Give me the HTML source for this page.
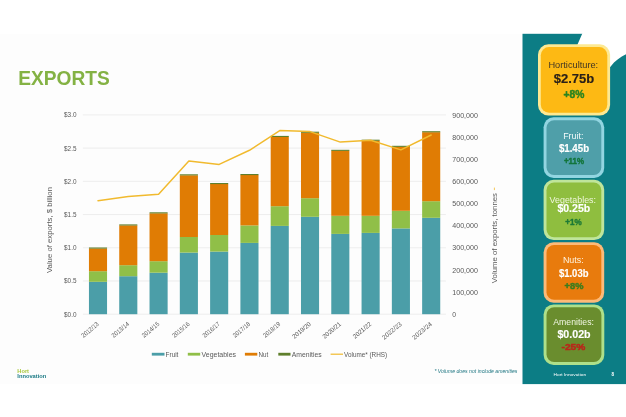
<!DOCTYPE html>
<html><head><meta charset="utf-8"><title>Exports</title>
<style>
html,body{margin:0;padding:0;background:#fff;}
body{width:626px;height:417px;overflow:hidden;font-family:"Liberation Sans",sans-serif;}
svg{display:block;}
svg text{font-family:"Liberation Sans",sans-serif;}
</style></head><body>
<svg width="626" height="417" viewBox="0 0 626 417">
<rect width="626" height="417" fill="#fff"/>
<rect x="0" y="33.8" width="523" height="350.3" fill="#fdfdfd"/>

<text x="18.3" y="85.2" font-size="20.3" font-weight="bold" fill="#84b244" textLength="91.5" lengthAdjust="spacingAndGlyphs">EXPORTS</text>
<line x1="82.9" x2="445.9" y1="114.90" y2="114.90" stroke="#e2e2e2" stroke-width="0.6"/>
<text x="76.5" y="117.30" font-size="6.4" fill="#595959" text-anchor="end">$3.0</text>
<line x1="82.9" x2="445.9" y1="148.12" y2="148.12" stroke="#e2e2e2" stroke-width="0.6"/>
<text x="76.5" y="150.52" font-size="6.4" fill="#595959" text-anchor="end">$2.5</text>
<line x1="82.9" x2="445.9" y1="181.34" y2="181.34" stroke="#e2e2e2" stroke-width="0.6"/>
<text x="76.5" y="183.74" font-size="6.4" fill="#595959" text-anchor="end">$2.0</text>
<line x1="82.9" x2="445.9" y1="214.56" y2="214.56" stroke="#e2e2e2" stroke-width="0.6"/>
<text x="76.5" y="216.96" font-size="6.4" fill="#595959" text-anchor="end">$1.5</text>
<line x1="82.9" x2="445.9" y1="247.78" y2="247.78" stroke="#e2e2e2" stroke-width="0.6"/>
<text x="76.5" y="250.18" font-size="6.4" fill="#595959" text-anchor="end">$1.0</text>
<line x1="82.9" x2="445.9" y1="281.00" y2="281.00" stroke="#e2e2e2" stroke-width="0.6"/>
<text x="76.5" y="283.40" font-size="6.4" fill="#595959" text-anchor="end">$0.5</text>
<line x1="82.9" x2="445.9" y1="314.22" y2="314.22" stroke="#e2e2e2" stroke-width="0.6"/>
<text x="76.5" y="316.62" font-size="6.4" fill="#595959" text-anchor="end">$0.0</text>
<text x="452.3" y="117.50" font-size="6.8" fill="#595959" textLength="25.6" lengthAdjust="spacingAndGlyphs">900,000</text>
<text x="452.3" y="139.65" font-size="6.8" fill="#595959" textLength="25.6" lengthAdjust="spacingAndGlyphs">800,000</text>
<text x="452.3" y="161.79" font-size="6.8" fill="#595959" textLength="25.6" lengthAdjust="spacingAndGlyphs">700,000</text>
<text x="452.3" y="183.94" font-size="6.8" fill="#595959" textLength="25.6" lengthAdjust="spacingAndGlyphs">600,000</text>
<text x="452.3" y="206.08" font-size="6.8" fill="#595959" textLength="25.6" lengthAdjust="spacingAndGlyphs">500,000</text>
<text x="452.3" y="228.22" font-size="6.8" fill="#595959" textLength="25.6" lengthAdjust="spacingAndGlyphs">400,000</text>
<text x="452.3" y="250.37" font-size="6.8" fill="#595959" textLength="25.6" lengthAdjust="spacingAndGlyphs">300,000</text>
<text x="452.3" y="272.51" font-size="6.8" fill="#595959" textLength="25.6" lengthAdjust="spacingAndGlyphs">200,000</text>
<text x="452.3" y="294.66" font-size="6.8" fill="#595959" textLength="25.6" lengthAdjust="spacingAndGlyphs">100,000</text>
<text x="452.3" y="316.81" font-size="6.8" fill="#595959">0</text>
<rect x="88.95" y="281.80" width="18.1" height="32.40" fill="#4b9ea8"/>
<rect x="88.95" y="271.20" width="18.1" height="10.60" fill="#90bf48"/>
<rect x="88.95" y="248.50" width="18.1" height="22.70" fill="#e07c04"/>
<rect x="88.95" y="247.50" width="18.1" height="1.1" fill="#5f7f2c"/>
<rect x="119.24" y="276.20" width="18.1" height="38.00" fill="#4b9ea8"/>
<rect x="119.24" y="265.20" width="18.1" height="11.00" fill="#90bf48"/>
<rect x="119.24" y="225.40" width="18.1" height="39.80" fill="#e07c04"/>
<rect x="119.24" y="224.40" width="18.1" height="1.1" fill="#5f7f2c"/>
<rect x="149.53" y="272.70" width="18.1" height="41.50" fill="#4b9ea8"/>
<rect x="149.53" y="261.20" width="18.1" height="11.50" fill="#90bf48"/>
<rect x="149.53" y="213.30" width="18.1" height="47.90" fill="#e07c04"/>
<rect x="149.53" y="212.30" width="18.1" height="1.1" fill="#5f7f2c"/>
<rect x="179.82" y="252.60" width="18.1" height="61.60" fill="#4b9ea8"/>
<rect x="179.82" y="237.00" width="18.1" height="15.60" fill="#90bf48"/>
<rect x="179.82" y="175.30" width="18.1" height="61.70" fill="#e07c04"/>
<rect x="179.82" y="174.30" width="18.1" height="1.1" fill="#5f7f2c"/>
<rect x="210.11" y="251.60" width="18.1" height="62.60" fill="#4b9ea8"/>
<rect x="210.11" y="235.00" width="18.1" height="16.60" fill="#90bf48"/>
<rect x="210.11" y="184.00" width="18.1" height="51.00" fill="#e07c04"/>
<rect x="210.11" y="183.00" width="18.1" height="1.1" fill="#5f7f2c"/>
<rect x="240.40" y="242.90" width="18.1" height="71.30" fill="#4b9ea8"/>
<rect x="240.40" y="225.40" width="18.1" height="17.50" fill="#90bf48"/>
<rect x="240.40" y="175.00" width="18.1" height="50.40" fill="#e07c04"/>
<rect x="240.40" y="174.00" width="18.1" height="1.1" fill="#5f7f2c"/>
<rect x="270.69" y="225.90" width="18.1" height="88.30" fill="#4b9ea8"/>
<rect x="270.69" y="206.20" width="18.1" height="19.70" fill="#90bf48"/>
<rect x="270.69" y="136.90" width="18.1" height="69.30" fill="#e07c04"/>
<rect x="270.69" y="135.90" width="18.1" height="1.1" fill="#5f7f2c"/>
<rect x="300.98" y="216.80" width="18.1" height="97.40" fill="#4b9ea8"/>
<rect x="300.98" y="198.20" width="18.1" height="18.60" fill="#90bf48"/>
<rect x="300.98" y="132.70" width="18.1" height="65.50" fill="#e07c04"/>
<rect x="300.98" y="131.70" width="18.1" height="1.1" fill="#5f7f2c"/>
<rect x="331.27" y="233.90" width="18.1" height="80.30" fill="#4b9ea8"/>
<rect x="331.27" y="215.80" width="18.1" height="18.10" fill="#90bf48"/>
<rect x="331.27" y="150.80" width="18.1" height="65.00" fill="#e07c04"/>
<rect x="331.27" y="149.80" width="18.1" height="1.1" fill="#5f7f2c"/>
<rect x="361.56" y="232.90" width="18.1" height="81.30" fill="#4b9ea8"/>
<rect x="361.56" y="215.80" width="18.1" height="17.10" fill="#90bf48"/>
<rect x="361.56" y="140.70" width="18.1" height="75.10" fill="#e07c04"/>
<rect x="361.56" y="139.70" width="18.1" height="1.1" fill="#5f7f2c"/>
<rect x="391.85" y="228.40" width="18.1" height="85.80" fill="#4b9ea8"/>
<rect x="391.85" y="210.80" width="18.1" height="17.60" fill="#90bf48"/>
<rect x="391.85" y="146.80" width="18.1" height="64.00" fill="#e07c04"/>
<rect x="391.85" y="145.80" width="18.1" height="1.1" fill="#5f7f2c"/>
<rect x="422.14" y="217.80" width="18.1" height="96.40" fill="#4b9ea8"/>
<rect x="422.14" y="201.20" width="18.1" height="16.60" fill="#90bf48"/>
<rect x="422.14" y="132.20" width="18.1" height="69.00" fill="#e07c04"/>
<rect x="422.14" y="131.20" width="18.1" height="1.1" fill="#5f7f2c"/>
<polyline points="98.00,200.70 128.29,196.60 158.58,194.20 188.87,161.00 219.16,164.40 249.45,150.30 279.74,130.60 310.03,131.60 340.32,142.10 370.61,140.20 400.90,149.90 431.19,135.00" fill="none" stroke="#f1ba2e" stroke-width="1.5" stroke-linejoin="round" stroke-linecap="round"/>
<text transform="translate(99.30,324.80) rotate(-40)" font-size="6.4" fill="#595959" text-anchor="end" textLength="20.6" lengthAdjust="spacingAndGlyphs">2012/13</text>
<text transform="translate(129.59,324.80) rotate(-40)" font-size="6.4" fill="#595959" text-anchor="end" textLength="20.6" lengthAdjust="spacingAndGlyphs">2013/14</text>
<text transform="translate(159.88,324.80) rotate(-40)" font-size="6.4" fill="#595959" text-anchor="end" textLength="20.6" lengthAdjust="spacingAndGlyphs">2014/15</text>
<text transform="translate(190.17,324.80) rotate(-40)" font-size="6.4" fill="#595959" text-anchor="end" textLength="20.6" lengthAdjust="spacingAndGlyphs">2015/16</text>
<text transform="translate(220.46,324.80) rotate(-40)" font-size="6.4" fill="#595959" text-anchor="end" textLength="20.6" lengthAdjust="spacingAndGlyphs">2016/17</text>
<text transform="translate(250.75,324.80) rotate(-40)" font-size="6.4" fill="#595959" text-anchor="end" textLength="20.6" lengthAdjust="spacingAndGlyphs">2017/18</text>
<text transform="translate(281.04,324.80) rotate(-40)" font-size="6.4" fill="#595959" text-anchor="end" textLength="20.6" lengthAdjust="spacingAndGlyphs">2018/19</text>
<text transform="translate(311.33,324.80) rotate(-40)" font-size="6.4" fill="#595959" text-anchor="end" textLength="22.0" lengthAdjust="spacingAndGlyphs">2019/20</text>
<text transform="translate(341.62,324.80) rotate(-40)" font-size="6.4" fill="#595959" text-anchor="end" textLength="22.0" lengthAdjust="spacingAndGlyphs">2020/21</text>
<text transform="translate(371.91,324.80) rotate(-40)" font-size="6.4" fill="#595959" text-anchor="end" textLength="22.0" lengthAdjust="spacingAndGlyphs">2021/22</text>
<text transform="translate(402.20,324.80) rotate(-40)" font-size="6.4" fill="#595959" text-anchor="end" textLength="23.5" lengthAdjust="spacingAndGlyphs">2022/23</text>
<text transform="translate(432.49,324.80) rotate(-40)" font-size="6.4" fill="#595959" text-anchor="end" textLength="23.5" lengthAdjust="spacingAndGlyphs">2023/24</text>
<text transform="translate(52.2,230) rotate(-90)" font-size="7" fill="#595959" text-anchor="middle" textLength="86" lengthAdjust="spacingAndGlyphs">Value of exports, $ billion</text>
<text transform="translate(496.9,238.1) rotate(-90)" font-size="7" fill="#595959" text-anchor="middle" textLength="90.2" lengthAdjust="spacingAndGlyphs">Volume of exports, tonnes</text>
<line x1="494.4" x2="494.4" y1="187.6" y2="190.1" stroke="#f1ba2e" stroke-width="0.8"/>
<rect x="151.8" y="352.80" width="12.70" height="2.8" fill="#4b9ea8"/>
<text x="165.6" y="356.5" font-size="6.5" fill="#595959" textLength="12.8" lengthAdjust="spacingAndGlyphs">Fruit</text>
<rect x="187.8" y="352.80" width="12.40" height="2.8" fill="#90bf48"/>
<text x="201.5" y="356.5" font-size="6.5" fill="#595959" textLength="34.5" lengthAdjust="spacingAndGlyphs">Vegetables</text>
<rect x="244.9" y="352.80" width="12.40" height="2.8" fill="#e07c04"/>
<text x="258.6" y="356.5" font-size="6.5" fill="#595959" textLength="9.7" lengthAdjust="spacingAndGlyphs">Nut</text>
<rect x="278.3" y="352.80" width="12.20" height="2.8" fill="#5f7f2c"/>
<text x="291.8" y="356.5" font-size="6.5" fill="#595959" textLength="29.9" lengthAdjust="spacingAndGlyphs">Amenities</text>
<rect x="330.6" y="353.60" width="12.40" height="1.2" fill="#f1ba2e"/>
<text x="344.1" y="356.5" font-size="6.5" fill="#595959" textLength="43.0" lengthAdjust="spacingAndGlyphs">Volume* (RHS)</text>
<text x="17.3" y="372.7" font-size="4.9" font-weight="bold" fill="#a9c73c" textLength="11.7" lengthAdjust="spacingAndGlyphs">Hort</text>
<text x="17.3" y="377.7" font-size="4.9" font-weight="bold" fill="#1b7a85" textLength="29" lengthAdjust="spacingAndGlyphs">Innovation</text>
<text x="434.4" y="372.7" font-size="5.2" font-style="italic" fill="#1f7682" textLength="83" lengthAdjust="spacingAndGlyphs">* Volume does not include amenities</text>
<rect x="522.5" y="33.8" width="103.5" height="350.3" fill="#0c7d85"/>
<path d="M583.9,30 L582.2,33.8 L577.4,44.7 L577.4,72 L606,72 L609.8,67.4 L614,62.6 L617.6,59.6 L621.8,56.6 L626,54.2 L626,30 Z" fill="#fff"/>
<rect x="538.0" y="44.3" width="72.1" height="71.2" rx="10.5" ry="10.5" fill="#fde992"/>
<rect x="540.8" y="47.099999999999994" width="66.5" height="65.60000000000001" rx="8.2" ry="8.2" fill="#fdb914"/>
<text x="573.3" y="68.38" font-size="8.6" fill="#3f3524" text-anchor="middle" textLength="49.8" lengthAdjust="spacingAndGlyphs">Horticulture:</text>
<text x="574.0" y="83.37" font-size="13.6" fill="#2a2018" text-anchor="middle" font-weight="bold" textLength="40.5" lengthAdjust="spacingAndGlyphs" stroke="#2a2018" stroke-width="0.15" stroke-linejoin="round">$2.75b</text>
<text x="574.0" y="97.58" font-size="10.0" fill="#2a8420" text-anchor="middle" font-weight="bold" textLength="20.8" lengthAdjust="spacingAndGlyphs" stroke="#2a8420" stroke-width="0.45" stroke-linejoin="round">+8%</text>
<rect x="543.6" y="117.3" width="60.6" height="60.6" rx="10" ry="10" fill="#92d5e1"/>
<rect x="546.5" y="120.2" width="54.800000000000004" height="54.800000000000004" rx="7.6" ry="7.6" fill="#4f9fa9"/>
<text x="573.3" y="138.62" font-size="9.0" fill="#f4fbfb" text-anchor="middle" textLength="20.2" lengthAdjust="spacingAndGlyphs">Fruit:</text>
<text x="574.0" y="151.87" font-size="10.8" fill="#ffffff" text-anchor="middle" font-weight="bold" textLength="30.2" lengthAdjust="spacingAndGlyphs" stroke="#ffffff" stroke-width="0.15" stroke-linejoin="round">$1.45b</text>
<text x="574.0" y="164.19" font-size="8.9" fill="#12753a" text-anchor="middle" font-weight="bold" textLength="20.2" lengthAdjust="spacingAndGlyphs" stroke="#12753a" stroke-width="0.45" stroke-linejoin="round">+11%</text>
<rect x="543.6" y="179.7" width="60.6" height="60.4" rx="10" ry="10" fill="#bfe59b"/>
<rect x="546.5" y="182.6" width="54.800000000000004" height="54.6" rx="7.6" ry="7.6" fill="#8fbe3f"/>
<text x="572.8" y="203.08" font-size="8.6" fill="#f0f7dc" text-anchor="middle" textLength="46.5" lengthAdjust="spacingAndGlyphs">Vegetables:</text>
<text x="573.8" y="212.39" font-size="10.6" fill="#ffffff" text-anchor="middle" font-weight="bold" textLength="32.8" lengthAdjust="spacingAndGlyphs" stroke="#ffffff" stroke-width="0.15" stroke-linejoin="round">$0.25b</text>
<text x="573.4" y="224.59" font-size="8.9" fill="#1d7a36" text-anchor="middle" font-weight="bold" textLength="16.4" lengthAdjust="spacingAndGlyphs" stroke="#1d7a36" stroke-width="0.45" stroke-linejoin="round">+1%</text>
<rect x="543.6" y="242.2" width="60.6" height="60.5" rx="10" ry="10" fill="#fdba78"/>
<rect x="546.5" y="245.1" width="54.800000000000004" height="54.7" rx="7.6" ry="7.6" fill="#e87b0d"/>
<text x="573.3" y="263.42" font-size="9.0" fill="#fff4e0" text-anchor="middle" textLength="20.8" lengthAdjust="spacingAndGlyphs">Nuts:</text>
<text x="573.7" y="276.67" font-size="10.8" fill="#ffffff" text-anchor="middle" font-weight="bold" textLength="29.6" lengthAdjust="spacingAndGlyphs" stroke="#ffffff" stroke-width="0.15" stroke-linejoin="round">$1.03b</text>
<text x="574.0" y="289.19" font-size="8.9" fill="#3a7d1e" text-anchor="middle" font-weight="bold" textLength="18.8" lengthAdjust="spacingAndGlyphs" stroke="#3a7d1e" stroke-width="0.45" stroke-linejoin="round">+8%</text>
<rect x="543.6" y="304.4" width="60.7" height="60.6" rx="10" ry="10" fill="#aee08a"/>
<rect x="546.5" y="307.29999999999995" width="54.900000000000006" height="54.800000000000004" rx="7.6" ry="7.6" fill="#6a8d2e"/>
<text x="573.6" y="325.08" font-size="8.6" fill="#f2f7e4" text-anchor="middle" textLength="40.6" lengthAdjust="spacingAndGlyphs">Amenities:</text>
<text x="574.0" y="337.51" font-size="11.2" fill="#ffffff" text-anchor="middle" font-weight="bold" textLength="33.2" lengthAdjust="spacingAndGlyphs" stroke="#ffffff" stroke-width="0.15" stroke-linejoin="round">$0.02b</text>
<text x="573.4" y="350.07" font-size="9.4" fill="#b9271a" text-anchor="middle" font-weight="bold" textLength="23.8" lengthAdjust="spacingAndGlyphs" stroke="#b9271a" stroke-width="0.45" stroke-linejoin="round">-25%</text>
<text x="569.8" y="375.54" font-size="4.3" fill="#ffffff" text-anchor="middle" textLength="32.5" lengthAdjust="spacingAndGlyphs">Hort Innovation</text>
<text x="612.8" y="375.65" font-size="4.6" fill="#ffffff" text-anchor="middle" font-weight="bold">8</text>
</svg></body></html>
